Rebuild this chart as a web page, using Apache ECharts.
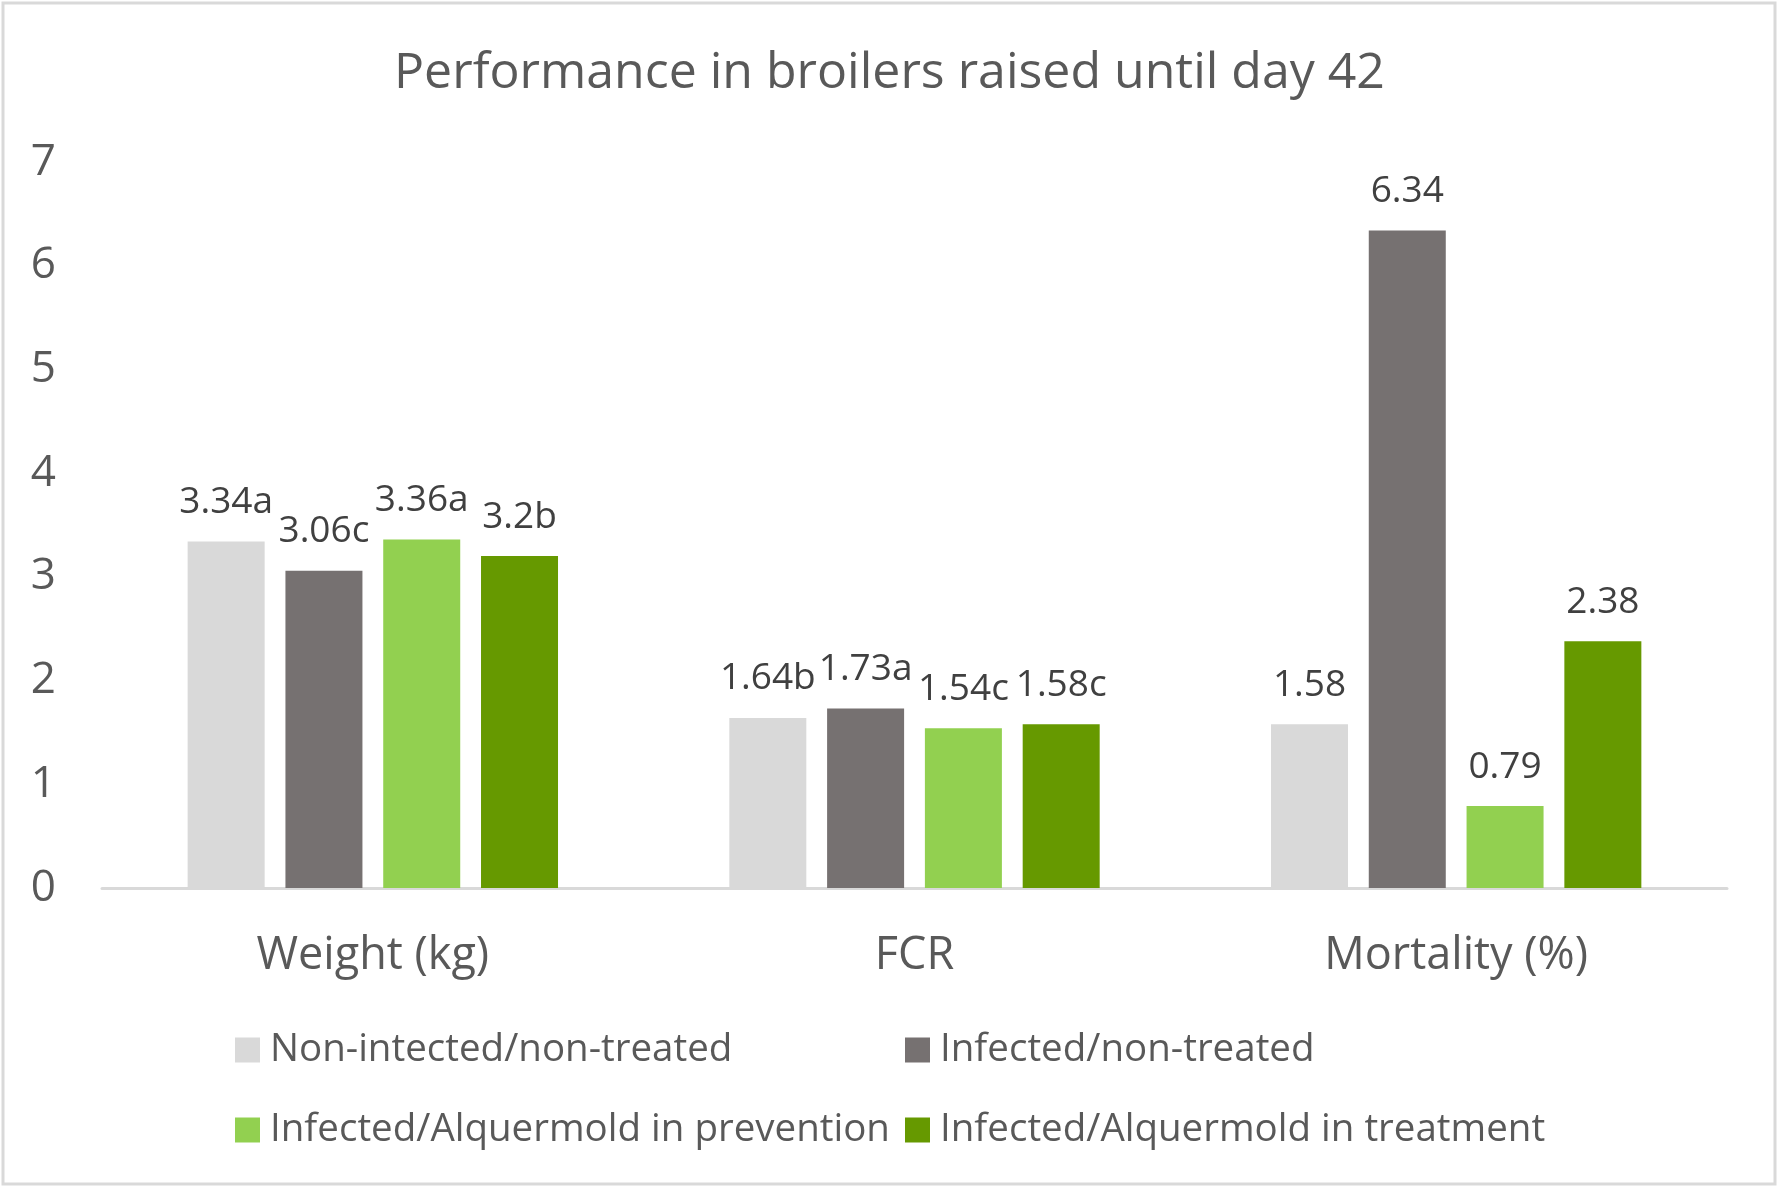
<!DOCTYPE html>
<html>
<head>
<meta charset="utf-8">
<script src="https://cdn.jsdelivr.net/npm/echarts@6/dist/echarts.min.js"></script>
<style>
    html, body { margin: 0; padding: 0; background: #fff; }
    #chart { width: 1779px; height: 1188px; }
</style>
</head>
<body>
<div id="chart"></div>
<script>
// 数据
var categories = ['Weight (kg)', 'FCR', 'Mortality (%)'];
var seriesNames = [
    'Non-intected/non-treated',
    'Infected/non-treated',
    'Infected/Alquermold in prevention',
    'Infected/Alquermold in treatment'
];
var nonInfected = [3.34, 1.64, 1.58];
var infectedNoTreat = [3.06, 1.73, 6.34];
var prevention = [3.36, 1.54, 0.79];
var treatment = [3.2, 1.58, 2.38];
// 显著性字母
var nonInfectedLetters = ['a', 'b', ''];
var infectedNoTreatLetters = ['c', 'a', ''];
var preventionLetters = ['a', 'c', ''];
var treatmentLetters = ['b', 'c', ''];
var yTicks = [0, 1, 2, 3, 4, 5, 6, 7];

var colors = ['#d9d9d9', '#767171', '#92d050', '#669900'];
var fontName = '"Open Sans", "Noto Sans", sans-serif';

var chart = echarts.init(document.getElementById('chart'));

function makeSeries(idx, values, letters) {
    return {
        name: seriesNames[idx],
        type: 'bar',
        barWidth: 77,
        barGap: '27%',
        itemStyle: { color: colors[idx] },
        label: {
            show: true,
            position: 'top',
            distance: 19,
            color: '#404040',
            fontSize: 37,
            fontFamily: fontName,
            lineHeight: 40,
            formatter: function (p) {
                return p.value + letters[p.dataIndex];
            }
        },
        data: values
    };
}

var legendText = { color: '#595959', fontSize: 38.5, fontFamily: fontName, lineHeight: 40, padding: [0, 0, 0, 5] };

var option = {
    backgroundColor: '#fff',
    animation: false,
    graphic: [{
        type: 'rect',
        shape: { x: 3, y: 3, width: 1772, height: 1181 },
        style: { fill: 'none', stroke: '#d9d9d9', lineWidth: 3 }
    }],
    title: {
        text: 'Performance in broilers raised until day 42',
        left: 'center',
        top: 44,
        textStyle: {
            color: '#595959',
            fontSize: 50,
            fontWeight: 'normal',
            fontFamily: fontName
        }
    },
    legend: [{
        orient: 'vertical',
        left: 230,
        top: 1025,
        itemWidth: 25,
        itemHeight: 25,
        itemGap: 40,
        icon: 'rect',
        textStyle: legendText,
        data: [seriesNames[0], seriesNames[2]]
    }, {
        orient: 'vertical',
        left: 900,
        top: 1025,
        itemWidth: 25,
        itemHeight: 25,
        itemGap: 40,
        icon: 'rect',
        textStyle: legendText,
        data: [seriesNames[1], seriesNames[3]]
    }],
    grid: {
        left: 102,
        right: 52,
        top: 162,
        bottom: 300
    },
    xAxis: {
        type: 'category',
        data: categories,
        axisTick: { show: false },
        axisLine: { lineStyle: { color: '#d9d9d9', width: 3 } },
        axisLabel: {
            color: '#595959',
            fontSize: 45,
            fontFamily: fontName,
            margin: 46
        }
    },
    yAxis: {
        type: 'value',
        min: yTicks[0],
        max: yTicks[yTicks.length - 1],
        interval: 1,
        splitLine: { show: false },
        axisLine: { show: false },
        axisTick: { show: false },
        axisLabel: {
            color: '#595959',
            fontSize: 44,
            fontFamily: fontName,
            margin: 46
        }
    },
    series: [
        makeSeries(0, nonInfected, nonInfectedLetters),
        makeSeries(1, infectedNoTreat, infectedNoTreatLetters),
        makeSeries(2, prevention, preventionLetters),
        makeSeries(3, treatment, treatmentLetters)
    ]
};

chart.setOption(option);
</script>
</body>
</html>
